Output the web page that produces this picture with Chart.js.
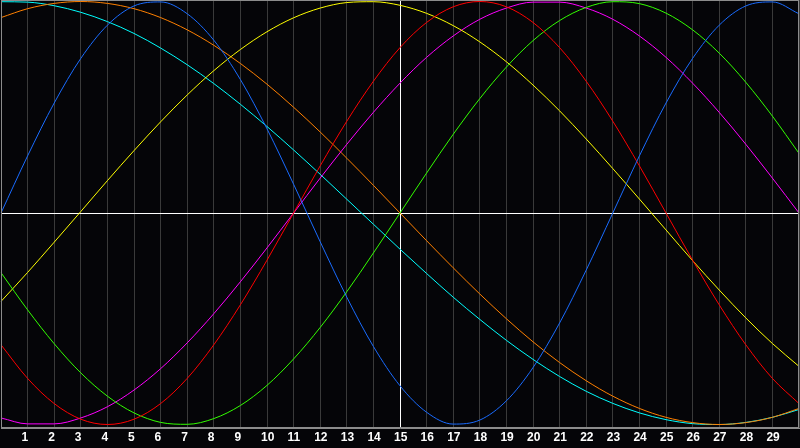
<!DOCTYPE html>
<html>
<head>
<meta charset="utf-8">
<script src="https://cdn.jsdelivr.net/npm/chart.js@4.4.0/dist/chart.umd.min.js"></script>
<style>
  html, body { margin: 0; padding: 0; background: #050508; }
</style>
</head>
<body>
<canvas id="bioChart" width="800" height="448"></canvas>
<script>
// days shown on the x axis (0 and 30 are the edges, unlabelled)
const days = [0, 1, 2, 3, 4, 5, 6, 7, 8, 9, 10, 11, 12, 13, 14, 15, 16, 17, 18, 19, 20, 21, 22, 23, 24, 25, 26, 27, 28, 29, 30];

// values, -100 .. 100
const physical     = [0, 27.0, 52.0, 73.1, 88.8, 97.9, 99.8, 94.2, 81.7, 63.1, 39.8, 13.6, -13.6, -39.8, -63.1, -81.7, -94.2, -99.8, -97.9, -88.8, -73.1, -52.0, -27.0, 0, 27.0, 52.0, 73.1, 88.8, 97.9, 99.8, 94.2];
const emotional    = [-62.3, -78.2, -90.1, -97.5, -100, -97.5, -90.1, -78.2, -62.3, -43.4, -22.3, 0, 22.3, 43.4, 62.3, 78.2, 90.1, 97.5, 100, 97.5, 90.1, 78.2, 62.3, 43.4, 22.3, 0, -22.3, -43.4, -62.3, -78.2, -90.1];
const intellectual = [-28.2, -45.8, -61.8, -75.6, -86.6, -94.5, -99.0, -99.9, -97.2, -91.0, -81.5, -69.0, -54.1, -37.2, -18.9, 0, 18.9, 37.2, 54.1, 69.0, 81.5, 91.0, 97.2, 99.9, 99.0, 94.5, 86.6, 75.6, 61.8, 45.8, 28.2];
const aesthetic    = [-41.8, -28.1, -13.8, 0.7, 15.3, 29.5, 43.1, 55.8, 67.3, 77.3, 85.7, 92.3, 96.9, 99.5, 99.9, 98.2, 94.4, 88.6, 80.9, 71.5, 60.5, 48.3, 35.0, 21.0, 6.6, -8.0, -22.5, -36.4, -49.6, -61.7, -72.5];
const intuitive    = [-96.9, -99.7, -99.7, -96.9, -91.6, -83.7, -73.6, -61.4, -47.6, -32.5, -16.5, 0, 16.5, 32.5, 47.6, 61.4, 73.6, 83.7, 91.6, 96.9, 99.7, 99.7, 96.9, 91.6, 83.7, 73.6, 61.4, 47.6, 32.5, 16.5, 0];
const awareness    = [92.4, 96.6, 99.1, 100, 99.1, 96.6, 92.4, 86.6, 79.3, 70.7, 60.9, 50.0, 38.3, 25.9, 13.1, 0, -13.1, -25.9, -38.3, -50.0, -60.9, -70.7, -79.3, -86.6, -92.4, -96.6, -99.1, -100, -99.1, -96.6, -92.4];
const spiritual    = [99.9, 99.7, 98.0, 94.9, 90.5, 84.9, 78.0, 70.1, 61.2, 51.4, 40.9, 29.8, 18.3, 6.5, -5.3, -17.1, -28.6, -39.8, -50.3, -60.2, -69.2, -77.3, -84.3, -90.0, -94.5, -97.7, -99.6, -100, -99.0, -96.6, -92.9];

const todayIndex = 15;

function line(data, color) {
  return {
    data: data,
    borderColor: color,
    borderWidth: 1,
    pointRadius: 0,
    cubicInterpolationMode: 'monotone',
    fill: false
  };
}

// black background + grey frame round the plot
const frame = {
  id: 'frame',
  beforeDraw(chart) {
    const c = chart.ctx;
    c.save();
    c.fillStyle = '#050508';
    c.fillRect(0, 0, chart.width, chart.height);
    c.restore();
  },
  afterDraw(chart) {
    const a = chart.chartArea;
    const c = chart.ctx;
    c.save();
    c.strokeStyle = '#8c8c8c';
    c.lineWidth = 1;
    c.strokeRect(a.left + 0.5, a.top + 0.5, a.right - a.left - 1, a.bottom - a.top - 1);
    c.restore();
  }
};

new Chart(document.getElementById('bioChart'), {
  type: 'line',
  data: {
    labels: days,
    datasets: [
      line(physical, '#1a6cff'),
      line(emotional, '#ff0000'),
      line(intellectual, '#33ff00'),
      line(aesthetic, '#ffff00'),
      line(intuitive, '#ff00ff'),
      line(awareness, '#ff8000'),
      line(spiritual, '#00ffff')
    ]
  },
  options: {
    responsive: false,
    animation: false,
    layout: { padding: 0 },
    plugins: { legend: { display: false }, tooltip: { enabled: false } },
    scales: {
      x: {
        offset: false,
        grid: {
          color: ctx => ctx.index === todayIndex ? '#ffffff' : '#3a3a3a',
          lineWidth: 1,
          drawTicks: false
        },
        border: { display: true, color: '#8c8c8c' },
        ticks: {
          color: '#ffffff',
          font: { family: 'Liberation Sans', size: 12, weight: 'bold', lineHeight: 1.5 },
          padding: 1,
          align: 'start',
          labelOffset: -6,
          autoSkip: false,
          maxRotation: 0,
          callback: (v, i) => (i > 0 && i < days.length - 1) ? String(days[i]) : ''
        }
      },
      y: {
        min: -101.65,
        max: 100.71,
        afterBuildTicks: s => { s.ticks = [{ value: 0 }]; },
        grid: { color: '#ffffff', lineWidth: 1, drawTicks: false },
        border: { display: true, color: '#8c8c8c' },
        ticks: { display: false }
      }
    }
  },
  plugins: [frame]
});
</script>
</body>
</html>
